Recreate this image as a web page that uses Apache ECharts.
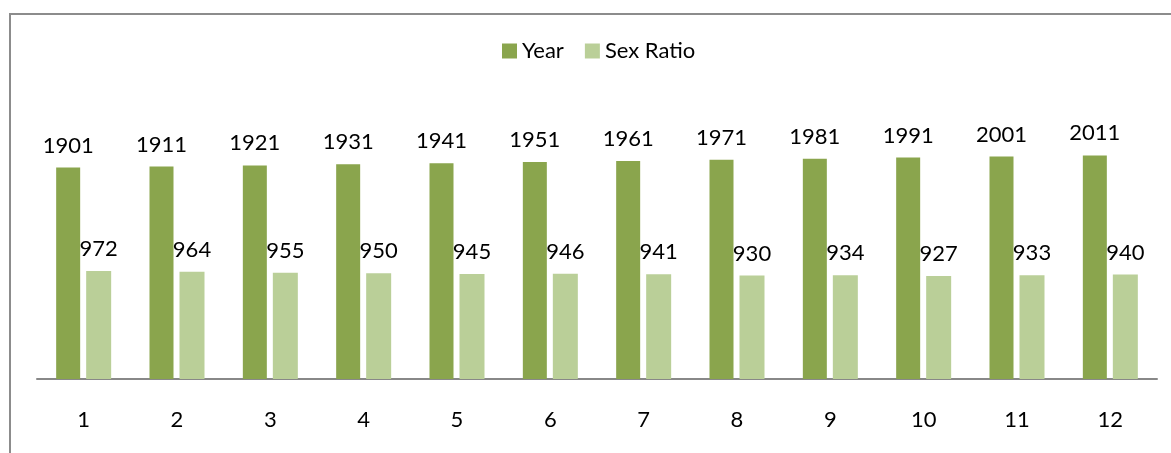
<!DOCTYPE html>
<html>
<head>
<meta charset="utf-8">
<title>Year / Sex Ratio</title>
<script src="https://cdn.jsdelivr.net/npm/echarts@6/dist/echarts.min.js"></script>
<style>
  html, body { margin: 0; padding: 0; background: #fff; }
  #main { width: 1171px; height: 453px; }
</style>
</head>
<body>
<div id="main"></div>
<script>
// data
var categories = ['1', '2', '3', '4', '5', '6', '7', '8', '9', '10', '11', '12'];
var yearValues = [1901, 1911, 1921, 1931, 1941, 1951, 1961, 1971, 1981, 1991, 2001, 2011];
var sexRatioValues = [972, 964, 955, 950, 945, 946, 941, 930, 934, 927, 933, 940];

var fontName = 'Lato';
var fontSize = 22;
var darkGreen = '#8aa54d';
var lightGreen = '#bacf98';

var myChart = echarts.init(document.getElementById('main'));

var option = {
    animation: false,
    textStyle: { fontFamily: fontName },
    legend: {
        left: 502,
        top: 40,
        padding: 0,
        itemWidth: 15,
        itemHeight: 15,
        itemGap: 21,
        icon: 'rect',
        textStyle: { fontFamily: fontName, fontSize: fontSize, color: '#000' },
        data: ['Year', 'Sex Ratio']
    },
    grid: {
        left: 37,
        right: 14,
        top: 101,
        height: 278
    },
    xAxis: {
        type: 'category',
        data: categories,
        axisLine: { lineStyle: { color: '#888', width: 2 } },
        axisTick: { show: false },
        axisLabel: { color: '#000', fontSize: fontSize, fontFamily: fontName, margin: 30 }
    },
    yAxis: {
        type: 'value',
        min: 0,
        max: 2500,
        show: false,
        splitLine: { show: false }
    },
    series: [
        {
            name: 'Year',
            type: 'bar',
            data: yearValues,
            barWidth: 24,
            barGap: '25%',
            itemStyle: { color: darkGreen },
            label: {
                show: true,
                position: 'top',
                distance: 11,
                color: '#000',
                fontSize: fontSize,
                fontFamily: fontName
            }
        },
        {
            name: 'Sex Ratio',
            type: 'bar',
            data: sexRatioValues,
            barWidth: 25,
            itemStyle: { color: lightGreen },
            label: {
                show: true,
                position: 'top',
                distance: 11,
                color: '#000',
                fontSize: fontSize,
                fontFamily: fontName
            }
        }
    ],
    graphic: [
        {
            type: 'polyline',
            shape: { points: [[10, 453], [10, 14], [1171, 14]] },
            style: { stroke: '#8c8c8c', lineWidth: 2, fill: null },
            silent: true
        }
    ]
};

myChart.setOption(option);
</script>
</body>
</html>
